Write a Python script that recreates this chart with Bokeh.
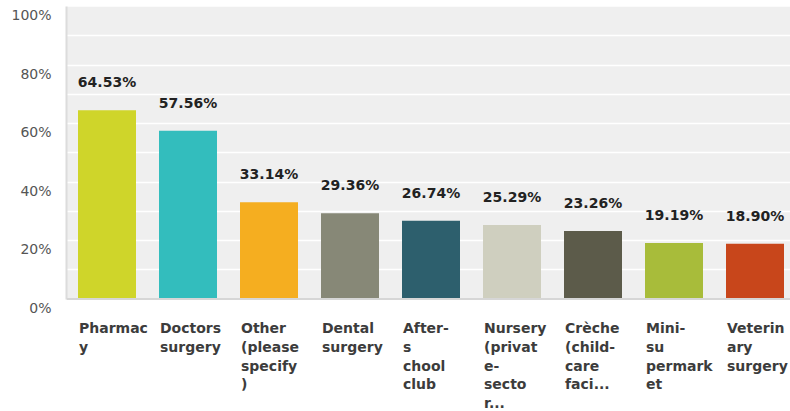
from bokeh.plotting import figure
from bokeh.models import Range1d, FixedTicker, BoxAnnotation, Span, ColumnDataSource, LinearAxis
from bokeh.embed import file_html
from bokeh.resources import INLINE
from bokeh.core.properties import value

# ---- data ----
categories = ["Pharmacy", "Doctors surgery", "Other (please specify)", "Dental surgery",
              "After-school club", "Nursery (private-sector...)", "Crèche (child-care faci...)",
              "Mini-supermarket", "Veterinary surgery"]
category_labels = ["Pharmac\ny", "Doctors\nsurgery", "Other\n(please\nspecify\n)",
                   "Dental\nsurgery", "After-\ns\nchool\nclub", "Nursery\n(privat\ne-\nsecto\nr...",
                   "Crèche\n(child-\ncare\nfaci...", "Mini-\nsu\npermark\net", "Veterin\nary\nsurgery"]
values = [64.53, 57.56, 33.14, 29.36, 26.74, 25.29, 23.26, 19.19, 18.90]
colors = ["#cfd52a", "#33bdbd", "#f5ae20", "#878877", "#2d5f6d", "#cfcfbf", "#5c5b4a", "#a8bc3a", "#c8461b"]
y_ticks = [0, 20, 40, 60, 80, 100]
y_tick_labels = ["0%", "20%", "40%", "60%", "80%", "100%"]
y_minor = [10, 30, 50, 70, 90]

n = len(categories)
xs = [i + 0.5 for i in range(n)]
src = ColumnDataSource(dict(
    x=xs, top=values, color=colors,
    label=[f"{v:.2f}%" for v in values],
    cat=category_labels, zero=[0] * n,
))

W, H = 790, 411
left, top_b = 66, 6
cat_px = 81.0
x_end = (W - left) / cat_px
px_per_unit = 2.926
y_start = -(H - top_b) / px_per_unit + 100
label_drop = 3  # tick labels sit ~9px below their gridline in the reference

p = figure(width=W, height=H, x_range=Range1d(0, x_end), y_range=Range1d(y_start, 100),
           output_backend="svg", toolbar_location=None, x_axis_location=None,
           min_border_left=left, min_border_right=0, min_border_top=top_b, min_border_bottom=0)
p.outline_line_color = None
p.background_fill_color = "white"
p.border_fill_color = "white"

bg = BoxAnnotation(bottom=0, top=100, fill_color="#efefef", fill_alpha=1.0,
                   line_color=None, level="image")
p.add_layout(bg)

p.xgrid.grid_line_color = None
p.ygrid.ticker = FixedTicker(ticks=y_ticks, minor_ticks=y_minor)
p.ygrid.grid_line_color = "white"
p.ygrid.grid_line_width = 1.5
p.ygrid.minor_grid_line_color = "white"
p.ygrid.minor_grid_line_width = 1.5
p.ygrid.bounds = (0, 100)

# axis line only
ax = p.yaxis[0]
ax.ticker = FixedTicker(ticks=y_ticks, minor_ticks=[])
ax.bounds = (0, 100)
ax.major_tick_line_color = None
ax.minor_tick_line_color = None
ax.axis_line_color = "#dcdcdc"
ax.axis_line_width = 2
ax.major_label_text_color = None
ax.major_label_text_font_size = "0px"
ax.major_label_standoff = 0

# tick labels only
lab_ticks = [t - label_drop for t in y_ticks]
ax2 = LinearAxis(ticker=FixedTicker(ticks=lab_ticks, minor_ticks=[]),
                 major_label_overrides={t: l for t, l in zip(lab_ticks, y_tick_labels)},
                 axis_line_color=None, major_tick_line_color=None,
                 minor_tick_line_color=None, major_label_standoff=3,
                 major_label_text_font="DejaVu Sans", major_label_text_font_size="14px",
                 major_label_text_color="#555555")
p.add_layout(ax2, "left")

p.vbar(x="x", top="top", bottom=0, width=58 / cat_px, fill_color="color",
       line_color=None, source=src)

p.add_layout(Span(location=0, dimension="width", line_color="#d6d6d6", line_width=2))

p.text(x="x", y="top", text="label", source=src, text_align="center",
       text_baseline="alphabetic", y_offset=-28,
       text_font=value("DejaVu Sans"), text_font_style="bold",
       text_font_size="14px", text_color="#222222")

p.text(x="x", y="zero", text="cat", source=src, text_align="left",
       text_baseline="top", x_offset=-28, y_offset=21, text_line_height=1.17,
       text_font=value("DejaVu Sans"), text_font_style="bold",
       text_font_size="14px", text_color="#3c3c3c")

open("out.html", "w").write(file_html(p, INLINE))
